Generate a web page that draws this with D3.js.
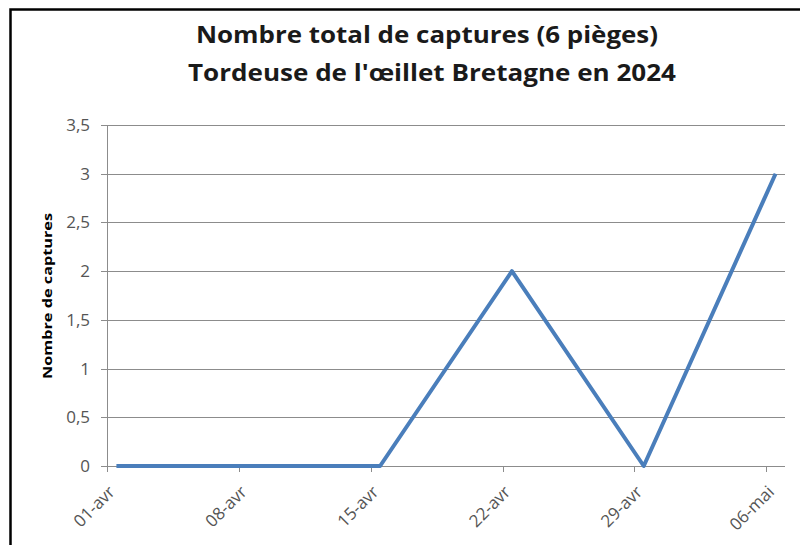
<!doctype html>
<html lang="fr">
<head>
  <meta charset="utf-8">
  <title>Tordeuse de l'œillet - D3</title>
  <style>
    body { margin: 0; background: #fff; }
    svg { display: block; font-family: "Open Sans", "Noto Sans", sans-serif; }
  </style>
</head>
<body>
  <svg width="800" height="545"></svg>

  <script src="https://cdn.jsdelivr.net/npm/d3@7/dist/d3.min.js"></script>
  <script>
    var dates = ["2024-04-01", "2024-04-08", "2024-04-15", "2024-04-22", "2024-04-29", "2024-05-06"];
    var captures = [0, 0, 0, 2, 0, 3];
    var yTicks = [0, 0.5, 1, 1.5, 2, 2.5, 3, 3.5];
    var monthNames = ["janv", "févr", "mars", "avr", "mai", "juin"];
    var titleLines = ["Nombre total de captures (6 pièges)", "Tordeuse de l'œillet Bretagne en 2024"];
    var yLabel = "Nombre de captures";

    var parse = d3.utcParse("%Y-%m-%d");
    var days = dates.map(parse);
    var data = days.map((d, i) => ({ date: d, value: captures[i] }));

    var svg = d3.select('svg');
    var mLeft = 107, mRight = 785, mTop = 125, mBottom = 466;

    // frame (only top and left edges are visible in the source)
    svg.append('path')
      .attr('d', 'M10.5,545 V9.5 H800')
      .attr('fill', 'none')
      .attr('stroke', '#000')
      .attr('stroke-width', 2.5);

    // time axis: Apr 1 -> May 7, points sit in the middle of their day
    var x = d3.scaleUtc()
      .domain([days[0], d3.utcDay.offset(days[days.length - 1], 1)])
      .range([mLeft, mRight]);
    var y = d3.scaleLinear()
      .domain([0, 3.5])
      .range([mBottom, mTop]);
    var fmt = v => String(v).replace('.', ',');

    // grid
    svg.append('g').selectAll('line').data(yTicks).enter()
      .append('line')
      .attr('x1', mLeft - 6).attr('x2', mRight)
      .attr('y1', v => Math.round(y(v)) + 0.5).attr('y2', v => Math.round(y(v)) + 0.5)
      .attr('stroke', '#8c8c8c').attr('stroke-width', 1);

    // y axis line
    svg.append('line')
      .attr('x1', mLeft + 0.5).attr('x2', mLeft + 0.5)
      .attr('y1', mTop).attr('y2', mBottom)
      .attr('stroke', '#8c8c8c');

    svg.append('g').selectAll('text').data(yTicks).enter()
      .append('text')
      .text(fmt)
      .attr('x', 90)
      .attr('y', v => y(v) + 6)
      .attr('text-anchor', 'end')
      .attr('font-size', 17)
      .attr('fill', '#555');

    // x ticks and labels
    var gx = svg.append('g');
    gx.selectAll('line').data(days).enter()
      .append('line')
      .attr('x1', d => Math.round(x(d)) + 0.5).attr('x2', d => Math.round(x(d)) + 0.5)
      .attr('y1', mBottom).attr('y2', mBottom + 6)
      .attr('stroke', '#8c8c8c');
    gx.selectAll('text').data(days).enter()
      .append('text')
      .text(d => d3.utcFormat('%d-')(d) + monthNames[d.getUTCMonth()])
      .attr('transform', d => 'translate(' + (x(d) + 9) + ',' + (mBottom + 27) + ') rotate(-45)')
      .attr('text-anchor', 'end')
      .attr('font-size', 17)
      .attr('fill', '#555');

    // line
    var line = d3.line()
      .x(d => x(d3.utcHour.offset(d.date, 12)))
      .y(d => y(d.value));
    svg.append('path')
      .datum(data)
      .attr('d', line)
      .attr('fill', 'none')
      .attr('stroke', '#4a7ebb')
      .attr('stroke-width', 4)
      .attr('stroke-linejoin', 'round');

    // titles
    svg.append('g').selectAll('text').data(titleLines).enter()
      .append('text')
      .text(t => t)
      .attr('x', (t, i) => i === 0 ? 427 : 432)
      .attr('y', (t, i) => 43 + i * 38)
      .attr('text-anchor', 'middle')
      .attr('font-size', 24)
      .attr('font-weight', 'bold')
      .attr('fill', '#1a1a1a')
      .attr('textLength', (t, i) => i === 0 ? 462 : 488)
      .attr('lengthAdjust', 'spacingAndGlyphs');

    svg.append('text')
      .text(yLabel)
      .attr('transform', 'translate(52,296) rotate(-90)')
      .attr('text-anchor', 'middle')
      .attr('font-size', 13)
      .attr('font-weight', 'bold')
      .attr('fill', '#000')
      .attr('textLength', 166)
      .attr('lengthAdjust', 'spacingAndGlyphs');
  </script>
</body>
</html>
